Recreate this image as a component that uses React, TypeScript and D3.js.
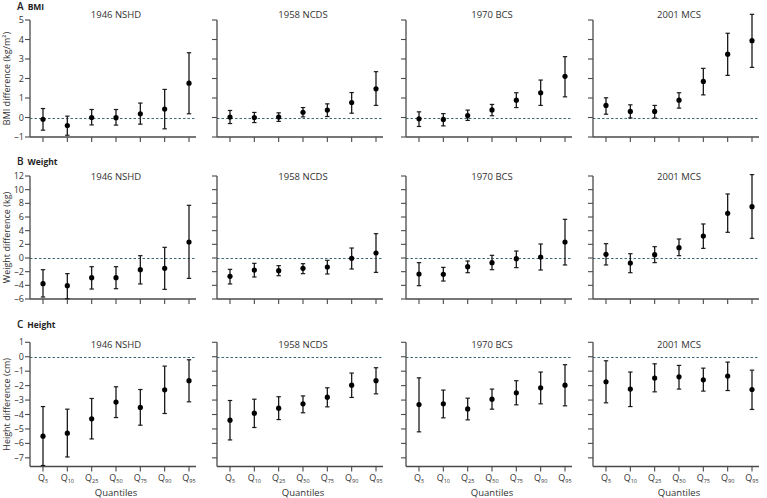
import React from "react";
import * as d3 from "d3";

const cohorts = ["1946 NSHD", "1958 NCDS", "1970 BCS", "2001 MCS"];
const quantiles = ["5", "10", "25", "50", "75", "90", "95"];

// BMI difference (kg/m²) per cohort x quantile
const bmiEst = [
  [-0.09, -0.41, 0.0, -0.01, 0.19, 0.43, 1.76],
  [0.02, 0.0, 0.02, 0.27, 0.38, 0.77, 1.47],
  [-0.07, -0.1, 0.1, 0.39, 0.89, 1.27, 2.11],
  [0.62, 0.31, 0.31, 0.89, 1.85, 3.25, 3.94],
];
const bmiLo = [
  [-0.65, -0.91, -0.38, -0.39, -0.34, -0.58, 0.19],
  [-0.31, -0.26, -0.2, 0.03, 0.05, 0.22, 0.62],
  [-0.46, -0.43, -0.15, 0.09, 0.51, 0.62, 1.06],
  [0.17, -0.02, -0.03, 0.48, 1.16, 2.16, 2.57],
];
const bmiHi = [
  [0.46, 0.07, 0.41, 0.41, 0.74, 1.44, 3.32],
  [0.36, 0.26, 0.24, 0.51, 0.7, 1.28, 2.35],
  [0.29, 0.2, 0.38, 0.67, 1.27, 1.92, 3.12],
  [1.01, 0.65, 0.62, 1.27, 2.52, 4.32, 5.29],
];

// Weight difference (kg)
const weightEst = [
  [-3.76, -4.05, -2.88, -2.88, -1.71, -1.51, 2.34],
  [-2.68, -1.76, -1.85, -1.51, -1.32, -0.05, 0.73],
  [-2.34, -2.39, -1.27, -0.68, -0.1, 0.15, 2.34],
  [0.54, -0.73, 0.49, 1.51, 3.22, 6.54, 7.51],
];
const weightLo = [
  [-5.71, -5.95, -4.54, -4.49, -3.8, -4.59, -2.98],
  [-3.8, -2.78, -2.59, -2.29, -2.34, -1.61, -2.1],
  [-4.05, -3.37, -2.15, -1.71, -1.41, -1.76, -1.02],
  [-1.02, -2.15, -0.68, 0.34, 1.41, 3.76, 2.88],
];
const weightHi = [
  [-1.71, -2.29, -1.27, -1.27, 0.34, 1.56, 7.71],
  [-1.66, -0.78, -1.12, -0.83, -0.34, 1.46, 3.56],
  [-0.68, -1.37, -0.44, 0.39, 1.02, 2.05, 5.66],
  [2.1, 0.63, 1.66, 2.78, 4.98, 9.37, 12.2],
];

// Height difference (cm)
const heightEst = [
  [-5.5, -5.29, -4.3, -3.14, -3.51, -2.29, -1.66],
  [-4.39, -3.91, -3.56, -3.26, -2.8, -1.97, -1.66],
  [-3.31, -3.26, -3.61, -2.94, -2.5, -2.15, -1.97],
  [-1.73, -2.24, -1.48, -1.39, -1.6, -1.34, -2.27],
];
const heightLo = [
  [-7.53, -6.94, -5.69, -4.21, -4.74, -3.93, -3.12],
  [-5.76, -4.9, -4.35, -3.88, -3.47, -2.82, -2.57],
  [-5.2, -4.23, -4.37, -3.63, -3.33, -3.26, -3.4],
  [-3.19, -3.45, -2.43, -2.24, -2.38, -2.34, -3.65],
];
const heightHi = [
  [-3.45, -3.63, -2.89, -2.08, -2.27, -0.65, -0.21],
  [-3.03, -2.94, -2.77, -2.71, -2.15, -1.13, -0.76],
  [-1.46, -2.31, -2.87, -2.24, -1.66, -1.06, -0.55],
  [-0.28, -1.06, -0.49, -0.6, -0.79, -0.37, -0.93],
];

const W = 767;
const H = 498;
const panelX = [30, 217, 406, 593];
const panelW = 166;
const FONT = "'Open Sans', 'Noto Sans', sans-serif";
const AXIS = "#4a4a4a";
const TEXT = "#333";
const DASH = "#3e6b78";

type Row = {
  letter: string;
  name: string;
  ylabel: string;
  domain: [number, number];
  range: [number, number];
  ticks: number[];
  est: number[][];
  lo: number[][];
  hi: number[][];
  headY: number;
  titleY: number;
  xlabels: boolean;
};

const rows: Row[] = [
  {
    letter: "A", name: "BMI", ylabel: "BMI difference (kg/m²)",
    domain: [-1, 5], range: [137, 20], ticks: d3.range(-1, 6, 1),
    est: bmiEst, lo: bmiLo, hi: bmiHi, headY: 10, titleY: 18, xlabels: false,
  },
  {
    letter: "B", name: "Weight", ylabel: "Weight difference (kg)",
    domain: [-6, 12], range: [299, 176], ticks: d3.range(-6, 13, 2),
    est: weightEst, lo: weightLo, hi: weightHi, headY: 165, titleY: 180, xlabels: false,
  },
  {
    letter: "C", name: "Height", ylabel: "Height difference (cm)",
    domain: [-7.6, 1], range: [466.5, 342.3], ticks: d3.range(-7, 2, 1),
    est: heightEst, lo: heightLo, hi: heightHi, headY: 328, titleY: 348, xlabels: true,
  },
];

const fmt = (v: number) => (v < 0 ? "–" + Math.abs(v) : String(v));

function Panel({ row, ci }: { row: Row; ci: number }) {
  const x0 = panelX[ci];
  const y = d3.scaleLinear().domain(row.domain).range(row.range);
  const x = d3.scalePoint<string>().domain(quantiles).range([x0 + 13, x0 + 159]);
  const yBottom = y(row.domain[0]);
  const yTop = y(row.domain[1]);
  const yZero = Math.round(y(0)) + 0.5;
  const cap = 2.2;
  return (
    <g>
      {/* zero reference line */}
      <line x1={x0} x2={x0 + panelW} y1={yZero} y2={yZero} stroke={DASH} strokeWidth={1} strokeDasharray="2.5,2" />
      {/* y axis */}
      <line x1={x0} x2={x0} y1={yTop} y2={yBottom} stroke={AXIS} strokeWidth={1.3} />
      {row.ticks.map((t) => (
        <g key={t}>
          <line x1={x0 - 5} x2={x0} y1={y(t)} y2={y(t)} stroke={AXIS} strokeWidth={1.1} />
          {ci === 0 && (
            <text x={x0 - 6} y={y(t)} dy="0.34em" textAnchor="end" fontSize={9} fill={TEXT} fontFamily={FONT}>
              {fmt(t)}
            </text>
          )}
        </g>
      ))}
      {/* x axis */}
      <line x1={x0} x2={x0 + panelW} y1={yBottom} y2={yBottom} stroke={AXIS} strokeWidth={1.3} />
      {quantiles.map((q) => (
        <g key={q}>
          <line x1={x(q)!} x2={x(q)!} y1={yBottom} y2={yBottom + 5} stroke={AXIS} strokeWidth={1.1} />
          {row.xlabels && (
            <text x={x(q)!} y={yBottom + 14} textAnchor="middle" fontSize={9} fill={TEXT} fontFamily={FONT}>
              Q<tspan fontSize={5.5} dy={2}>{q}</tspan>
            </text>
          )}
        </g>
      ))}
      {row.xlabels && (
        <text x={(x0 + x0 + panelW) / 2 + 3} y={yBottom + 29} textAnchor="middle" fontSize={9.5} fill={TEXT} fontFamily={FONT}>
          Quantiles
        </text>
      )}
      {/* panel title */}
      <text x={(x(quantiles[0])! + x(quantiles[6])!) / 2} y={row.titleY} textAnchor="middle" fontSize={9.5} fill={TEXT} fontFamily={FONT}>
        {cohorts[ci]}
      </text>
      {/* error bars and points */}
      {quantiles.map((q, i) => {
        const cx = x(q)!;
        const lo = y(row.lo[ci][i]);
        const hi = y(row.hi[ci][i]);
        return (
          <g key={"p" + q}>
            <line x1={cx} x2={cx} y1={lo} y2={hi} stroke="#1a1a1a" strokeWidth={1.3} />
            <line x1={cx - cap} x2={cx + cap} y1={lo} y2={lo} stroke="#1a1a1a" strokeWidth={1.2} />
            <line x1={cx - cap} x2={cx + cap} y1={hi} y2={hi} stroke="#1a1a1a" strokeWidth={1.2} />
            <circle cx={cx} cy={y(row.est[ci][i])} r={2.6} fill="#000" />
          </g>
        );
      })}
    </g>
  );
}

export default function App() {
  return (
    <svg width={W} height={H} style={{ position: "absolute", left: 0, top: 0, background: "#fff" }}>
      {rows.map((row, ri) => {
        const y = d3.scaleLinear().domain(row.domain).range(row.range);
        const midY = (y(row.domain[0]) + y(row.domain[1])) / 2;
        return (
          <g key={ri}>
            <text x={17} y={row.headY} fontFamily={FONT} fill="#222">
              <tspan fontSize={10} fontWeight={600}>{row.letter}</tspan>
              <tspan dx={4} fontSize={8.5} fontWeight={700}>{row.name}</tspan>
            </text>
            <text
              transform={`translate(10,${midY}) rotate(-90)`}
              textAnchor="middle"
              fontSize={9}
              fill={TEXT}
              fontFamily={FONT}
            >
              {row.ylabel}
            </text>
            {cohorts.map((c, ci) => (
              <Panel key={c} row={row} ci={ci} />
            ))}
          </g>
        );
      })}
    </svg>
  );
}
